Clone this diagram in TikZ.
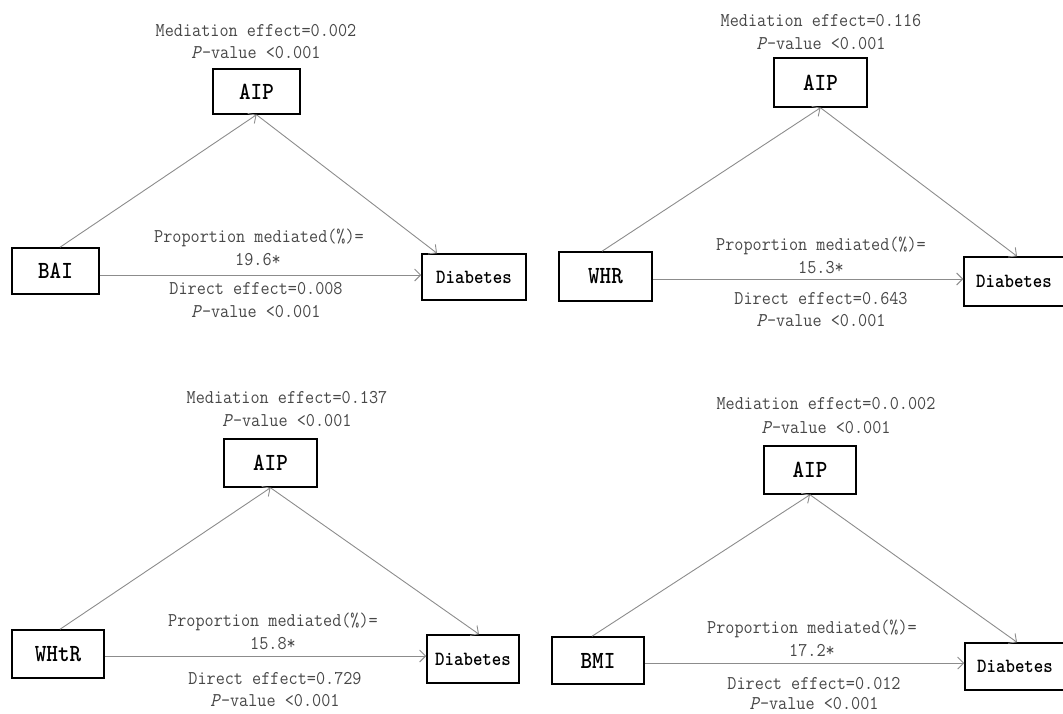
\documentclass[tikz,border=0pt]{standalone}
\usepackage{graphicx}
\usepackage{fontspec}
\usetikzlibrary{arrows.meta,calc}
\newcommand{\tl}[1]{\scalebox{1}[1.1]{#1}}
\newcommand{\tb}[1]{\scalebox{1}[1.12]{#1}}
\tikzset{
  box/.style={draw=black, line width=1.5pt, inner sep=0pt, text=black,
    font=\ttfamily\bfseries\fontsize{22}{22}\selectfont},
  dbox/.style={box, font=\ttfamily\bfseries\fontsize{18}{18}\selectfont},
  lbl/.style={text=black!72, inner sep=0pt, anchor=base,
    font=\ttfamily\fontsize{17.7}{18}\selectfont},
  con/.style={draw=black!45, line width=0.9pt, -{Straight Barb[length=6pt,width=12pt]}}
}
\begin{document}
\begin{tikzpicture}[x=1pt,y=-1pt]
\useasboundingbox (0,0) rectangle (1063,713);
% ---------- Panel 1 ----------
\node[box, minimum width=87pt, minimum height=45pt] (aip1) at (256.5,91.5) {\tb{AIP}};
\node[box, minimum width=87pt, minimum height=46pt] (x1) at (55.5,271) {\tb{BAI}};
\node[dbox, minimum width=104pt, minimum height=46pt] (d1) at (474,277) {\tb{Diabetes}};
\node[lbl] (m1a) at (256,36) {\tl{Mediation effect=0.002}};
\node[lbl] (m1b) at (256,58) {\tl{\textit{P}-value <0.001}};
\node[lbl] (p1a) at (259,242) {\tl{Proportion mediated(\%)=}};
\node[lbl] (p1b) at (258,265) {\tl{19.6*}};
\node[lbl] (e1a) at (256,294) {\tl{Direct effect=0.008}};
\node[lbl] (e1b) at (256,317) {\tl{\textit{P}-value <0.001}};
\draw[con] ([xshift=4.5pt]x1.north) -- (aip1.south);
\draw[con] (aip1.south) -- ([xshift=-37pt]d1.north);
\draw[con] ([yshift=-4pt]x1.east) -- ([yshift=2pt]d1.west);
% ---------- Panel 2 ----------
\node[box, minimum width=93pt, minimum height=49pt] (aip2) at (820.5,82.5) {\tb{AIP}};
\node[box, minimum width=93pt, minimum height=49pt] (x2) at (605.5,276.5) {\tb{WHR}};
\node[dbox, minimum width=100pt, minimum height=49pt] (d2) at (1014,281.5) {\tb{Diabetes}};
\node[lbl] (m2a) at (821,26) {\tl{Mediation effect=0.116}};
\node[lbl] (m2b) at (821,49) {\tl{\textit{P}-value <0.001}};
\node[lbl] (p2a) at (821,250) {\tl{Proportion mediated(\%)=}};
\node[lbl] (p2b) at (821,273) {\tl{15.3*}};
\node[lbl] (e2a) at (821,304) {\tl{Direct effect=0.643}};
\node[lbl] (e2b) at (821,326) {\tl{\textit{P}-value <0.001}};
\draw[con] ([xshift=-3.5pt]x2.north) -- (aip2.south);
\draw[con] (aip2.south) -- ([xshift=3pt]d2.north);
\draw[con] ([yshift=-2.5pt]x2.east) -- ([yshift=2.5pt]d2.west);
% ---------- Panel 3 ----------
\node[box, minimum width=93pt, minimum height=48pt] (aip3) at (270.5,463) {\tb{AIP}};
\node[box, minimum width=92pt, minimum height=48pt] (x3) at (58,654) {\tb{WHtR}};
\node[dbox, minimum width=92pt, minimum height=48pt] (d3) at (473,659) {\tb{Diabetes}};
\node[lbl] (m3a) at (287,403) {\tl{Mediation effect=0.137}};
\node[lbl] (m3b) at (287,426) {\tl{\textit{P}-value <0.001}};
\node[lbl] (p3a) at (273,626) {\tl{Proportion mediated(\%)=}};
\node[lbl] (p3b) at (273,649) {\tl{15.8*}};
\node[lbl] (e3a) at (275,684) {\tl{Direct effect=0.729}};
\node[lbl] (e3b) at (275,706) {\tl{\textit{P}-value <0.001}};
\draw[con] ([xshift=2pt]x3.north) -- (aip3.south);
\draw[con] (aip3.south) -- ([xshift=6pt]d3.north);
\draw[con] ([yshift=-2pt]x3.east) -- ([yshift=3pt]d3.west);
% ---------- Panel 4 ----------
\node[box, minimum width=92pt, minimum height=48pt] (aip4) at (810,470) {\tb{AIP}};
\node[box, minimum width=92pt, minimum height=47pt] (x4) at (598,660.5) {\tb{BMI}};
\node[dbox, minimum width=100pt, minimum height=47pt] (d4) at (1015,666.5) {\tb{Diabetes}};
\node[lbl] (m4a) at (826,409) {\tl{Mediation effect=0.0.002}};
\node[lbl] (m4b) at (826,433) {\tl{\textit{P}-value <0.001}};
\node[lbl] (p4a) at (812,633) {\tl{Proportion mediated(\%)=}};
\node[lbl] (p4b) at (812,656) {\tl{17.2*}};
\node[lbl] (e4a) at (814,689) {\tl{Direct effect=0.012}};
\node[lbl] (e4b) at (814,709) {\tl{\textit{P}-value <0.001}};
\draw[con] ([xshift=-6pt]x4.north) -- (aip4.south);
\draw[con] (aip4.south) -- ([xshift=2pt]d4.north);
\draw[con] ([yshift=-2.5pt]x4.east) -- ([yshift=3.5pt]d4.west);
\end{tikzpicture}
\end{document}
